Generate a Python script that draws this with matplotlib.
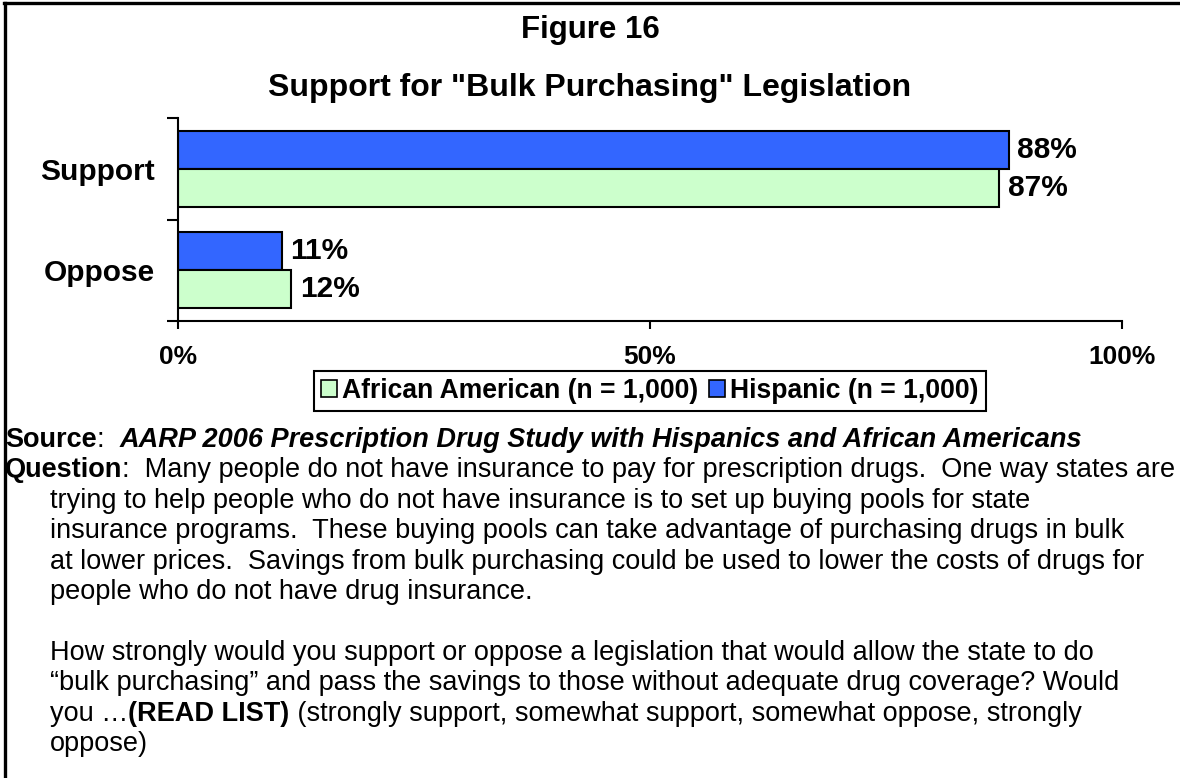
import matplotlib
matplotlib.use("Agg")
import numpy as np
from matplotlib import pyplot as plt
from matplotlib.patches import Patch
from matplotlib.lines import Line2D

plt.rcParams['font.family'] = ['Liberation Sans', 'DejaVu Sans']

categories = ["Oppose", "Support"]
african_american = [12, 87]
hispanic = [11, 88]
series_names = ["African American (n = 1,000)", "Hispanic (n = 1,000)"]
x_ticks = [0, 50, 100]
x_tick_labels = ["0%", "50%", "100%"]

green = "#CCFFCC"
blue = "#3366FF"

fig = plt.figure(figsize=(11.8, 7.78), dpi=100)

# outer frame (top and left edges only)
fig.add_artist(Line2D([4 / 1180, 1], [1 - 3 / 778, 1 - 3 / 778], color="black", lw=2.4))
fig.add_artist(Line2D([5 / 1180, 5 / 1180], [0, 1 - 3 / 778], color="black", lw=2.4))

fig.text(0.5, 1 - 30 / 778, "Figure 16", ha="center", va="center", fontsize=22.5, fontweight="bold")
fig.text(0.5, 1 - 88 / 778, 'Support for "Bulk Purchasing" Legislation', ha="center", va="center",
         fontsize=23, fontweight="bold")

ax = fig.add_axes([178 / 1180, 1 - 321 / 778, 944 / 1180, 203 / 778])
y = np.arange(len(categories))
h = 0.375
ax.barh(y + h / 2, hispanic, height=h, color=blue, edgecolor="black", linewidth=1.5)
ax.barh(y - h / 2, african_american, height=h, color=green, edgecolor="black", linewidth=1.5)

for i in range(len(categories)):
    ax.text(hispanic[i] + 0.9, y[i] + h / 2, f"{hispanic[i]}%", va="center", ha="left",
            fontsize=21.5, fontweight="bold")
    ax.text(african_american[i] + 0.9, y[i] - h / 2, f"{african_american[i]}%", va="center", ha="left",
            fontsize=21.5, fontweight="bold")

ax.set_xlim(0, 100)
ax.set_ylim(-0.5, 1.5)
ax.spines["top"].set_visible(False)
ax.spines["right"].set_visible(False)
ax.spines["left"].set_linewidth(1.5)
ax.spines["bottom"].set_linewidth(1.5)

ax.set_xticks(x_ticks)
ax.set_xticklabels(x_tick_labels, fontsize=19, fontweight="bold")
ax.tick_params(axis="x", direction="out", length=6, width=1.5, pad=11)

ax.set_yticks(y)
ax.set_yticklabels(categories, fontsize=21.5, fontweight="bold")
ax.tick_params(axis="y", which="major", length=0, pad=16.5)
ax.set_yticks([-0.5, 0.5, 1.5], minor=True)
ax.tick_params(axis="y", which="minor", direction="out", length=8, width=1.5)

handles = [Patch(facecolor=green, edgecolor="black", linewidth=1.2),
           Patch(facecolor=blue, edgecolor="black", linewidth=1.2)]
leg = fig.legend(handles, series_names, loc="center", bbox_to_anchor=(650 / 1180, 1 - 391 / 778),
                 ncol=2, fancybox=False, framealpha=1, edgecolor="black",
                 prop={"size": 19.1, "weight": "bold"}, handlelength=0.6, handleheight=0.6,
                 handletextpad=0.2, columnspacing=0.4, borderpad=0.25, borderaxespad=0)
leg.get_frame().set_linewidth(1.5)

# source and question text, drawn run by run so styles can mix on a line
body_lines = [
    (5, [("Source", "bold", "normal"), (":  ", "normal", "normal"),
         ("AARP 2006 Prescription Drug Study with Hispanics and African Americans", "bold", "italic")]),
    (5, [("Question", "bold", "normal"),
         (":  Many people do not have insurance to pay for prescription drugs.  One way states are", "normal", "normal")]),
    (50, [("trying to help people who do not have insurance is to set up buying pools for state", "normal", "normal")]),
    (50, [("insurance programs.  These buying pools can take advantage of purchasing drugs in bulk", "normal", "normal")]),
    (50, [("at lower prices.  Savings from bulk purchasing could be used to lower the costs of drugs for", "normal", "normal")]),
    (50, [("people who do not have drug insurance.", "normal", "normal")]),
    (50, []),
    (50, [("How strongly would you support or oppose a legislation that would allow the state to do", "normal", "normal")]),
    (50, [("\u201cbulk purchasing\u201d and pass the savings to those without adequate drug coverage? Would", "normal", "normal")]),
    (50, [("you \u2026", "normal", "normal"), ("(READ LIST)", "bold", "normal"),
          (" (strongly support, somewhat support, somewhat oppose, strongly", "normal", "normal")]),
    (50, [("oppose)", "normal", "normal")]),
]

renderer = fig.canvas.get_renderer()
y0 = 440
step = 30.4
for n, (x0, runs) in enumerate(body_lines):
    xpos = x0
    ypix = y0 + n * step
    for txt, weight, style in runs:
        t = fig.text(xpos / 1180, 1 - ypix / 778, txt, ha="left", va="center", fontsize=19.5,
                     fontweight=weight, fontstyle=style)
        bb = t.get_window_extent(renderer=renderer)
        xpos += bb.width

fig.savefig("out.png", dpi=100)
